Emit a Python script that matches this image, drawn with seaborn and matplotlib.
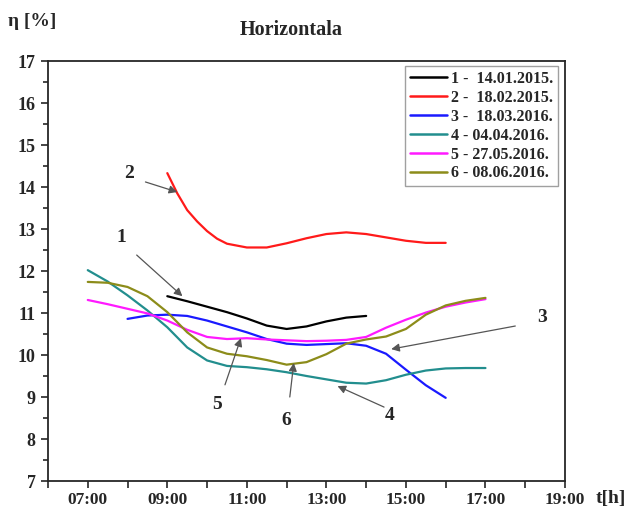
import pandas as pd
import numpy as np
import seaborn as sns
import matplotlib.pyplot as plt
from matplotlib.ticker import MultipleLocator, FixedLocator

# data (hour of day, efficiency %)
t1 = [9.0, 9.5, 10.0, 10.5, 11.0, 11.5, 12.0, 12.5, 13.0, 13.5, 14.0]
eta1 = [11.40, 11.28, 11.15, 11.02, 10.87, 10.70, 10.62, 10.68, 10.80, 10.89, 10.93]

t2 = [9.0, 9.25, 9.5, 9.75, 10.0, 10.25, 10.5, 11.0, 11.5, 12.0, 12.5, 13.0, 13.5, 14.0, 14.5, 15.0, 15.5, 16.0]
eta2 = [14.33, 13.85, 13.45, 13.18, 12.95, 12.77, 12.65, 12.56, 12.56, 12.66, 12.78, 12.88, 12.92, 12.88, 12.80, 12.72, 12.67, 12.67]

t3 = [8.0, 8.5, 9.0, 9.5, 10.0, 10.5, 11.0, 11.5, 12.0, 12.5, 13.0, 13.5, 14.0, 14.5, 15.0, 15.5, 16.0]
eta3 = [10.86, 10.94, 10.96, 10.93, 10.82, 10.68, 10.54, 10.38, 10.27, 10.24, 10.26, 10.28, 10.22, 10.03, 9.65, 9.28, 8.98]

t4 = [7.0, 7.5, 8.0, 8.5, 9.0, 9.5, 10.0, 10.5, 11.0, 11.5, 12.0, 12.5, 13.0, 13.5, 14.0, 14.5, 15.0, 15.5, 16.0, 16.5, 17.0]
eta4 = [12.02, 11.75, 11.42, 11.06, 10.66, 10.18, 9.87, 9.74, 9.71, 9.66, 9.59, 9.50, 9.42, 9.34, 9.32, 9.40, 9.53, 9.63, 9.68, 9.69, 9.69]

t5 = t4
eta5 = [11.31, 11.21, 11.10, 10.99, 10.82, 10.60, 10.43, 10.38, 10.40, 10.37, 10.35, 10.33, 10.34, 10.36, 10.43, 10.65, 10.84, 11.01, 11.15, 11.25, 11.33]

t6 = t4
eta6 = [11.74, 11.72, 11.62, 11.40, 11.02, 10.54, 10.18, 10.03, 9.97, 9.88, 9.77, 9.83, 10.02, 10.27, 10.37, 10.44, 10.62, 10.96, 11.18, 11.29, 11.36]

labels = ["1 -  14.01.2015.", "2 -  18.02.2015.", "3 -  18.03.2016.",
          "4 - 04.04.2016.", "5 - 27.05.2016.", "6 - 08.06.2016."]
colors = ["#000000", "#ff1a1a", "#1a1aff", "#228e8e", "#ff1aff", "#8c8c1a"]

xticks = [7, 9, 11, 13, 15, 17, 19]
xticklabels = ["07:00", "09:00", "11:00", "13:00", "15:00", "17:00", "19:00"]

frames = []
for lab, t, e in zip(labels, [t1, t2, t3, t4, t5, t6], [eta1, eta2, eta3, eta4, eta5, eta6]):
    frames.append(pd.DataFrame({"t": t, "eta": e, "serie": lab}))
df = pd.concat(frames, ignore_index=True)

sns.set_style('ticks')
plt.rcParams['font.family'] = ['Liberation Serif', 'DejaVu Serif']
plt.rcParams['font.weight'] = 'bold'

fig = plt.figure(figsize=(6.34, 5.12), dpi=100)
ax = fig.add_axes([48/634, 31/512, 517/634, 420/512])

sns.lineplot(data=df, x="t", y="eta", hue="serie", palette=dict(zip(labels, colors)),
             sort=False, linewidth=1.6, ax=ax)

ax.set_xlim(6, 19)
ax.set_ylim(7, 17)
ax.xaxis.set_major_locator(FixedLocator(xticks))
ax.set_xticklabels(xticklabels)
ax.xaxis.set_minor_locator(FixedLocator([6, 8, 10, 12, 14, 16, 18]))
ax.yaxis.set_major_locator(MultipleLocator(1))
ax.yaxis.set_minor_locator(MultipleLocator(0.5))
ax.tick_params(which='major', length=5, width=1.2, labelsize=13, pad=4)
ax.tick_params(axis='x', which='major', labelsize=12.5, pad=3)
ax.tick_params(which='minor', length=3.5, width=1.2)
ax.tick_params(axis='x', which='minor', length=5)
for s in ax.spines.values():
    s.set_linewidth(1.3)
ax.set_xlabel("")
ax.set_ylabel("")

leg = ax.legend(loc='upper right', bbox_to_anchor=(0.992, 0.995), fontsize=11.5,
                frameon=True, fancybox=False, edgecolor='#888888',
                handlelength=2.3, handletextpad=0.25, labelspacing=0.18,
                borderpad=0.3, borderaxespad=0.2)
for line in leg.get_lines():
    line.set_linewidth(1.8)
for txt in leg.get_texts():
    txt.set_fontweight('bold')

# curve numbers with arrows
arrow = dict(arrowstyle='-|>', color='#555555', lw=0.9, mutation_scale=12,
             shrinkA=0, shrinkB=0)
notes = [("2", (8.03, 14.33), (8.45, 14.12), (9.25, 13.88)),
         ("1", (7.85, 12.79), (8.23, 12.38), (9.38, 11.40)),
         ("5", (10.25, 8.81), (10.45, 9.29), (10.85, 10.40)),
         ("6", (12.0, 8.45), (12.08, 9.0), (12.18, 9.81)),
         ("3", (18.43, 10.9), (17.75, 10.69), (14.63, 10.14)),
         ("4", (14.6, 8.57), (14.45, 8.76), (13.28, 9.26))]
for num, pos, tail, head in notes:
    ax.text(pos[0], pos[1], num, fontsize=14, fontweight='bold', ha='center', va='center')
    ax.annotate("", xy=head, xytext=tail, arrowprops=arrow)

fig.text(291/634, 1 - 30/512, "Horizontala", fontsize=14.5, fontweight='bold',
         ha='center', va='center')
fig.text(8/634, 1 - 22/512, "η [%]", fontsize=14, fontweight='bold',
         ha='left', va='center')
fig.text(611/634, 1 - 499/512, "t[h]", fontsize=14, fontweight='bold',
         ha='center', va='center')

fig.savefig("out.png", dpi=100, facecolor='white')
